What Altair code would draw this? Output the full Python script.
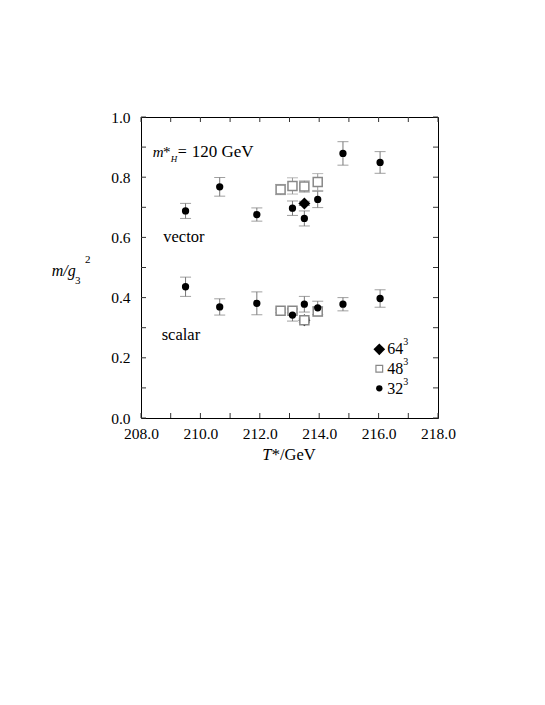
import altair as alt
import pandas as pd

# ---- data ----
T32 = [209.5, 210.65, 211.9, 213.1, 213.5, 213.95, 214.8, 216.05]
vec32 = [0.688, 0.768, 0.676, 0.697, 0.663, 0.726, 0.879, 0.849]
vec32_err = [0.025, 0.031, 0.022, 0.024, 0.025, 0.027, 0.039, 0.036]
sca32 = [0.436, 0.369, 0.381, 0.342, 0.378, 0.366, 0.378, 0.397]
sca32_err = [0.032, 0.027, 0.038, 0.020, 0.026, 0.022, 0.022, 0.029]

T48 = [212.7, 213.1, 213.5, 213.95]
vec48 = [0.759, 0.771, 0.769, 0.784]
vec48_err = [0.017, 0.027, 0.019, 0.028]
sca48 = [0.356, 0.356, 0.325, 0.354]
sca48_err = [0.006, 0.007, 0.008, 0.015]

T64 = [213.5]
vec64 = [0.713]
vec64_err = [0.007]
sca64 = [0.325]
sca64_err = [0.006]

x_ticks = [208 + i for i in range(11)]
y_ticks = [round(0.1 * i, 1) for i in range(11)]
x_labels = [208.0, 210.0, 212.0, 214.0, 216.0, 218.0]
y_labels = [0.0, 0.2, 0.4, 0.6, 0.8, 1.0]

W, H = 297, 301
FONT = "Liberation Serif, Times New Roman, serif"


def frame(T, vals, errs):
    return pd.DataFrame({"T": T, "v": vals,
                         "lo": [a - b for a, b in zip(vals, errs)],
                         "hi": [a + b for a, b in zip(vals, errs)]})


d32 = pd.concat([frame(T32, vec32, vec32_err), frame(T32, sca32, sca32_err)])
d48 = pd.concat([frame(T48, vec48, vec48_err), frame(T48, sca48, sca48_err)])
d64 = pd.concat([frame(T64, vec64, vec64_err), frame(T64, sca64, sca64_err)])

xs = alt.Scale(domain=[208, 218], nice=False)
ys = alt.Scale(domain=[0, 1], nice=False)
X = alt.X("T:Q", scale=xs,
          axis=alt.Axis(values=x_labels, format=".1f", ticks=False, tickSize=0,
                        domain=False, grid=False, title=None, labelFont=FONT,
                        labelFontSize=15.5, labelColor="black", labelPadding=8,
                        labelFlush=False, labelOverlap=False))
Y = alt.Y("v:Q", scale=ys,
          axis=alt.Axis(values=y_labels, format=".1f", ticks=False, tickSize=0,
                        domain=False, grid=False, title=None, labelFont=FONT,
                        labelFontSize=15.5, labelColor="black", labelPadding=11,
                        labelFlush=False, labelOverlap=False))


def errbars(df, color):
    base = alt.Chart(df)
    rule = base.mark_rule(color=color, strokeWidth=1).encode(
        x=alt.X("T:Q", scale=xs), y=alt.Y("lo:Q", scale=ys), y2="hi:Q")
    cap_lo = base.mark_tick(orient="horizontal", size=11, thickness=1, color=color).encode(
        x=alt.X("T:Q", scale=xs), y=alt.Y("lo:Q", scale=ys))
    cap_hi = base.mark_tick(orient="horizontal", size=11, thickness=1, color=color).encode(
        x=alt.X("T:Q", scale=xs), y=alt.Y("hi:Q", scale=ys))
    return [rule, cap_lo, cap_hi]


one = pd.DataFrame({"k": [0]})


def txt(s, x, y, size=16, style="normal", align="left"):
    return alt.Chart(one).mark_text(
        font=FONT, fontSize=size, fontStyle=style, align=align,
        baseline="alphabetic", color="black").encode(
        x=alt.value(x), y=alt.value(y), text=alt.value(s))


tick_col = "#333333"
xt = alt.Chart(pd.DataFrame({"T": x_ticks}))
yt = alt.Chart(pd.DataFrame({"v": y_ticks}))
ticks = [
    xt.mark_rule(color=tick_col).encode(x=alt.X("T:Q", scale=xs), y=alt.value(H), y2=alt.value(H - 5)),
    xt.mark_rule(color=tick_col).encode(x=alt.X("T:Q", scale=xs), y=alt.value(0), y2=alt.value(5)),
    yt.mark_rule(color=tick_col).encode(y=alt.Y("v:Q", scale=ys), x=alt.value(0), x2=alt.value(5)),
    yt.mark_rule(color=tick_col).encode(y=alt.Y("v:Q", scale=ys), x=alt.value(W), x2=alt.value(W - 5)),
]

axes = alt.Chart(d32).mark_point(opacity=0).encode(x=X, y=Y)

layers = [axes] + ticks
layers += errbars(d48, "#999999")
layers += errbars(d32, "#777777")
layers += errbars(d64, "#555555")
layers.append(alt.Chart(d64).mark_point(shape="diamond", filled=True, color="black",
                                        size=144, opacity=1).encode(
    x=alt.X("T:Q", scale=xs), y=alt.Y("v:Q", scale=ys)))
layers.append(alt.Chart(d48).mark_point(shape="square", filled=False, color="#888888",
                                        fill="white", fillOpacity=1, strokeWidth=1.5,
                                        size=81, opacity=1).encode(
    x=alt.X("T:Q", scale=xs), y=alt.Y("v:Q", scale=ys)))
layers.append(alt.Chart(d32).mark_point(shape="circle", filled=True, color="black",
                                        size=53, opacity=1).encode(
    x=alt.X("T:Q", scale=xs), y=alt.Y("v:Q", scale=ys)))

# legend
layers.append(alt.Chart(one).mark_point(shape="diamond", filled=True, color="black", size=137, opacity=1)
              .encode(x=alt.value(238.3), y=alt.value(232.3)))
layers.append(alt.Chart(one).mark_point(shape="square", filled=False, color="#888888", strokeWidth=1.2,
                                        size=45, opacity=1)
              .encode(x=alt.value(238.3), y=alt.value(251.7)))
layers.append(alt.Chart(one).mark_point(shape="circle", filled=True, color="black", size=40, opacity=1)
              .encode(x=alt.value(238.3), y=alt.value(271.3)))
layers += [txt("64", 246.3, 237, 16), txt("3", 262.3, 228, 10),
           txt("48", 246.3, 257, 16), txt("3", 262.3, 248, 10),
           txt("32", 246.3, 277, 16), txt("3", 262.3, 268, 10)]

# annotations
layers += [txt("vector", 22.3, 124.7, 16.5), txt("scalar", 20.7, 223, 16.5)]
layers += [txt("m", 11.7, 39.7, 15, "italic"), txt("*", 22, 39.7, 15),
           txt("H", 29.7, 44.7, 9, "italic"), txt("=", 36.7, 39.7, 16),
           txt("120 GeV", 50.7, 39.7, 17)]

# axis titles
layers += [txt("m/g", -89.3, 159, 16, "italic"), txt("3", -66, 167, 11),
           txt("2", -56, 146, 11)]
layers += [txt("T", 121.3, 343, 16.5, "italic"), txt("*/GeV", 130.7, 343, 16.5)]

chart = alt.layer(*layers).properties(
    width=W, height=H,
    padding={"left": 133, "top": 109, "right": 80, "bottom": 260},
    autosize=alt.AutoSizeParams(type="none"),
).configure_view(stroke="black", strokeWidth=1)

chart.save("out.html", embed_options={"renderer": "svg", "actions": False})
